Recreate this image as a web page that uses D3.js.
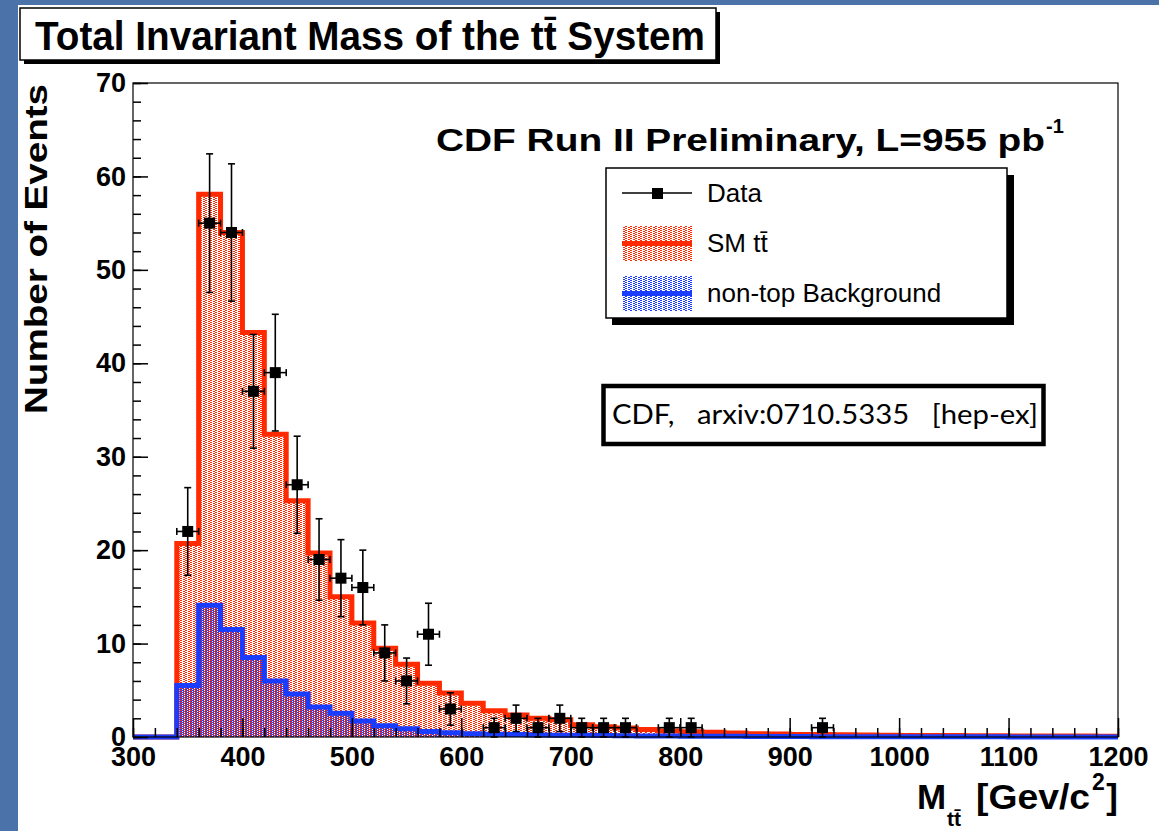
<!DOCTYPE html>
<html><head><meta charset="utf-8">
<script src="https://cdn.jsdelivr.net/npm/d3@7"></script>
<style>
body{margin:0;background:#fff;}
svg{display:block}
</style>
</head><body>
<svg id="c" width="1159" height="831"></svg>
<script>
// ---------------- data ----------------
const binLow = [300,320,340,360,380,400,420,440,460,480,500,520,540,560,580,600,620,640,660,680,
                700,720,740,760,780,800,820,840,860,880,900,920,940,960,980,1000,1020,1040,1060,1080,
                1100,1120,1140,1160,1180];
const binWidth = 20;
const smTT = [0,0,20.7,58.1,54.0,43.3,32.4,25.3,19.7,15.0,
              12.2,9.5,7.8,5.75,4.7,3.6,2.8,2.35,2.0,1.85,
              1.3,1.1,0.95,0.8,0.65,0.55,0.5,0.42,0.36,0.32,
              0.28,0.26,0.23,0.21,0.19,0.17,0.16,0.15,0.14,0.13,
              0.12,0.11,0.1,0.1,0.09];
const nonTop = [0,0,5.5,14.1,11.5,8.5,6.0,4.6,3.2,2.55,
                1.7,1.2,0.88,0.6,0.46,0.35,0.3,0.26,0.22,0.2,
                0.18,0.16,0.14,0.12,0.1,0.09,0.08,0.07,0.06,0.05,
                0.05,0.04,0.04,0.03,0.03,0.03,0.02,0.02,0.02,0.02,
                0.01,0.01,0.01,0.01,0.01];
const dataMass   = [350,370,390,410,430,450,470,490,510,530,550,570,590,630,650,670,690,710,730,750,790,810,930];
const dataCounts = [22,55,54,37,39,27,19,17,16,9,6,11,3,1,2,1,2,1,1,1,1,1,1];
const xTickLabels = [300,400,500,600,700,800,900,1000,1100,1200];
const yTickLabels = [0,10,20,30,40,50,60,70];
const legendLabels = ["Data","SM t\u0074\u0304","non-top Background"];

// ---------------- setup ----------------
const svg = d3.select('#c');
const W = 1159, H = 831;
const x = d3.scaleLinear().domain([300,1200]).range([133,1118]);
const y = d3.scaleLinear().domain([0,70]).range([737,83]);
const RED = '#ff2a00', BLUE = '#1a3cff', FRAME = '#4c73a9';
const SANS = "'Liberation Sans', Arial, Helvetica, sans-serif";

// page decoration
svg.append('rect').attr('x',0).attr('y',0).attr('width',W).attr('height',H).attr('fill','#fff');
svg.append('rect').attr('x',0).attr('y',0).attr('width',W).attr('height',5).attr('fill',FRAME);
svg.append('rect').attr('x',0).attr('y',0).attr('width',18).attr('height',H).attr('fill',FRAME);

// patterns
const defs = svg.append('defs');
function pattern(id, bg, color, cells){
  const p = defs.append('pattern').attr('id',id).attr('patternUnits','userSpaceOnUse')
    .attr('width',5).attr('height',2);
  if(bg) p.append('rect').attr('width',5).attr('height',2).attr('fill',bg);
  cells.forEach(c=>p.append('rect').attr('x',c[0]).attr('y',c[1]).attr('width',c[2]).attr('height',1).attr('fill',color));
}
pattern('redPat','#fff',RED,[[0,0,2],[3,1,2]]);
pattern('bluePat',null,BLUE,[[2,0,2],[0,1,2]]);
pattern('bluePatW','#fff',BLUE,[[0,0,2],[3,1,2]]);

// ---------------- histograms ----------------
function pts(vals){
  const p = binLow.map((b,i)=>[b, vals[i]]);
  p.push([binLow[binLow.length-1]+binWidth, vals[vals.length-1]]);
  return p;
}
const area = d3.area().curve(d3.curveStepAfter).x(d=>x(d[0])).y0(y(0)).y1(d=>y(d[1]));
const line = d3.line().curve(d3.curveStepAfter).x(d=>x(d[0])).y(d=>y(d[1]));

svg.append('path').attr('d',area(pts(smTT))).attr('fill','url(#redPat)');
svg.append('path').attr('d',line(pts(smTT))).attr('fill','none').attr('stroke',RED).attr('stroke-width',5);
svg.append('path').attr('d',area(pts(nonTop))).attr('fill','url(#bluePat)');
svg.append('path').attr('d',line(pts(nonTop))).attr('fill','none').attr('stroke',BLUE).attr('stroke-width',5);

// frame
svg.append('rect').attr('x',x(300)).attr('y',y(70)).attr('width',x(1200)-x(300)).attr('height',y(0)-y(70))
  .attr('fill','none').attr('stroke','#000').attr('stroke-width',1.2);

// ---------------- axes ----------------
const xMinor = d3.range(300,1201,20);
const yMinor = d3.range(0,70.01,2);
function styleAxis(g){
  g.select('.domain').remove();
  g.selectAll('.tick line').attr('stroke','#000').attr('stroke-width',1.5);
  g.selectAll('.tick text').attr('fill','#000').attr('font-family',SANS).attr('font-weight','bold').attr('font-size',27);
}
svg.append('g').attr('transform',`translate(0,${y(0)})`)
  .call(d3.axisBottom(x).tickValues(xMinor).tickSize(-9).tickFormat('')).call(styleAxis);
svg.append('g').attr('transform',`translate(0,${y(0)})`)
  .call(d3.axisBottom(x).tickValues(xTickLabels).tickSize(-19).tickPadding(10).tickFormat(d3.format('d'))).call(styleAxis);
svg.append('g').attr('transform',`translate(${x(300)},0)`)
  .call(d3.axisLeft(y).tickValues(yMinor).tickSize(-8).tickFormat('')).call(styleAxis);
svg.append('g').attr('transform',`translate(${x(300)},0)`)
  .call(d3.axisLeft(y).tickValues(yTickLabels).tickSize(-15).tickPadding(7).tickFormat(d3.format('d'))).call(styleAxis);

// ---------------- data points ----------------
const gd = svg.append('g');
const cap = 3.5;
dataMass.forEach((m,i)=>{
  const n = dataCounts[i], e = Math.sqrt(n);
  const cx = x(m), cy = y(n);
  const yt = y(n+e), yb = y(Math.max(0,n-e));
  const xl = x(m-binWidth/2), xr = x(m+binWidth/2);
  const L = (x1,y1,x2,y2)=>gd.append('line').attr('x1',x1).attr('y1',y1).attr('x2',x2).attr('y2',y2)
      .attr('stroke','#000').attr('stroke-width',1.6);
  L(cx,yt,cx,yb); L(cx-cap,yt,cx+cap,yt); L(cx-cap,yb,cx+cap,yb);
  L(xl,cy,xr,cy); L(xl,cy-cap,xl,cy+cap); L(xr,cy-cap,xr,cy+cap);
  gd.append('rect').attr('x',cx-5.5).attr('y',cy-5.5).attr('width',11).attr('height',11).attr('fill','#000');
});

// ---------------- title ----------------
svg.append('rect').attr('x',24).attr('y',12).attr('width',696).attr('height',52).attr('fill','#000');
svg.append('rect').attr('x',20).attr('y',8).attr('width',696).attr('height',52).attr('fill','#fff')
  .attr('stroke','#000').attr('stroke-width',1.5);
svg.append('text').attr('x',35).attr('y',50)
  .attr('font-family',"'Liberation Sans Narrow', 'Arial Narrow', "+SANS).attr('font-weight','bold').attr('font-size',41)
  .attr('textLength',670).attr('lengthAdjust','spacingAndGlyphs')
  .text('Total Invariant Mass of the t\u0074\u0304 System');

// ---------------- CDF label ----------------
svg.append('text').attr('x',436).attr('y',151).attr('font-family',SANS).attr('font-weight','bold').attr('font-size',31)
  .attr('textLength',609).attr('lengthAdjust','spacingAndGlyphs')
  .text('CDF Run II Preliminary, L=955 pb');
svg.append('text').attr('x',1046).attr('y',133).attr('font-family',SANS).attr('font-weight','bold').attr('font-size',20)
  .text('-1');

// ---------------- legend ----------------
svg.append('rect').attr('x',612).attr('y',175).attr('width',402).attr('height',150).attr('fill','#000');
svg.append('rect').attr('x',606).attr('y',168).attr('width',401).attr('height',150).attr('fill','#fff')
  .attr('stroke','#000').attr('stroke-width',1.5);
const lg = svg.append('g');
lg.append('line').attr('x1',622).attr('x2',692).attr('y1',193).attr('y2',193).attr('stroke','#000').attr('stroke-width',1.6);
lg.append('rect').attr('x',652).attr('y',188).attr('width',11).attr('height',11).attr('fill','#000');
lg.append('rect').attr('x',622).attr('y',226).attr('width',70).attr('height',35).attr('fill','url(#redPat)');
lg.append('line').attr('x1',622).attr('x2',692).attr('y1',243.5).attr('y2',243.5).attr('stroke',RED).attr('stroke-width',5);
lg.append('rect').attr('x',622).attr('y',276).attr('width',70).attr('height',35).attr('fill','url(#bluePatW)');
lg.append('line').attr('x1',622).attr('x2',692).attr('y1',293.5).attr('y2',293.5).attr('stroke',BLUE).attr('stroke-width',5);
[193,243,293].forEach((yy,i)=>{
  lg.append('text').attr('x',707).attr('y',yy).attr('dy','0.36em')
    .attr('font-family',SANS).attr('font-size',26).attr('fill','#000').text(legendLabels[i]);
});

// ---------------- reference box ----------------
svg.append('rect').attr('x',603.5).attr('y',386).attr('width',440).attr('height',58)
  .attr('fill','#fff').attr('stroke','#000').attr('stroke-width',4.5);
svg.append('text').attr('x',612).attr('y',424).attr('xml:space','preserve')
  .attr('font-family',"Lato, 'Open Sans', sans-serif").attr('font-size',27)
  .attr('textLength',426).attr('lengthAdjust','spacingAndGlyphs')
  .text('CDF,   arxiv:0710.5335   [hep-ex]');

// ---------------- axis titles ----------------
svg.append('text').attr('transform','translate(47,84) rotate(-90)').attr('text-anchor','end')
  .attr('font-family',SANS).attr('font-weight','bold').attr('font-size',32)
  .attr('textLength',330).attr('lengthAdjust','spacingAndGlyphs')
  .text('Number of Events');
const xt = svg.append('g').attr('font-family',SANS).attr('font-weight','bold').attr('fill','#000');
xt.append('text').attr('x',917).attr('y',809).attr('font-size',35).text('M');
xt.append('text').attr('x',947).attr('y',826).attr('font-size',21).text('t\u0074\u0304');
xt.append('text').attr('x',1118).attr('y',809).attr('font-size',35).attr('text-anchor','end').text(']');
xt.append('text').attr('x',976).attr('y',809).attr('font-size',35)
  .attr('textLength',114).attr('lengthAdjust','spacingAndGlyphs').text('[Gev/c');
xt.append('text').attr('x',1092).attr('y',790).attr('font-size',23).text('2');
</script>
</body></html>
